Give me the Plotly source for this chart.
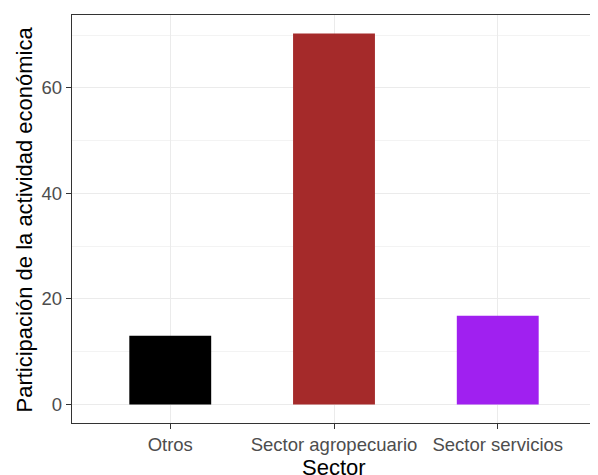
import plotly.graph_objects as go

sectores = ["Otros", "Sector agropecuario", "Sector servicios"]
participacion = [13.0, 70.3, 16.8]
colores = ["#000000", "#A52A2A", "#A020F0"]
y_ticks = [0, 20, 40, 60]
x_titulo = "Sector"
y_titulo = "Participación de la actividad económica"

# the page body has an 8px margin, so the figure is offset by 8px
OFF = 8
W, H = 598 - OFF, 475 - OFF
L, R, T, B = 72 - OFF, 2, 15 - OFF, 52
pw, ph = W - L - R, H - T - B

fig = go.Figure()
fig.add_trace(go.Bar(
    x=sectores, y=participacion, marker_color=colores,
    marker_line_width=0, width=0.5, showlegend=False,
))

ymax = max(participacion)
fig.update_layout(
    width=W, height=H,
    margin=dict(l=L, r=R, t=T, b=B),
    paper_bgcolor="white", plot_bgcolor="white",
    font=dict(family="Liberation Sans, Arial, sans-serif", size=18, color="#4D4D4D"),
)
fig.update_xaxes(
    range=[-0.6, 2.6], automargin=False,
    showgrid=True, gridcolor="#EBEBEB", gridwidth=1.1,
    showline=True, mirror=True, linecolor="#333333", linewidth=1.3,
    ticks="outside", ticklen=5, tickcolor="#333333", tickwidth=1.1,
    tickfont=dict(size=18.5, color="#4D4D4D"),
    zeroline=False,
)
fig.update_yaxes(
    range=[-0.05 * ymax, 1.05 * ymax], automargin=False,
    tickvals=y_ticks,
    showgrid=True, gridcolor="#EBEBEB", gridwidth=1.1,
    minor=dict(dtick=10, tick0=0, showgrid=True, gridcolor="#F3F3F3", gridwidth=0.6, ticks=""),
    showline=True, mirror=True, linecolor="#333333", linewidth=1.3,
    ticks="outside", ticklen=5, tickcolor="#333333", tickwidth=1.1,
    tickfont=dict(size=18.5, color="#4D4D4D"),
    zeroline=False,
)

# title positions in page pixels
xt_cx, xt_cy = 334, 467
yt_cx, yt_cy = 23.5, 220
fig.add_annotation(
    text=x_titulo, xref="paper", yref="paper",
    x=(xt_cx - OFF - L) / pw, y=(T + ph - (xt_cy - OFF)) / ph,
    xanchor="center", yanchor="middle",
    showarrow=False, font=dict(size=22, color="#000000"),
)
fig.add_annotation(
    text=y_titulo, xref="paper", yref="paper",
    x=(yt_cx - OFF - L) / pw, y=(T + ph - (yt_cy - OFF)) / ph,
    xanchor="center", yanchor="middle",
    textangle=-90, showarrow=False, font=dict(size=22, color="#000000"),
)

fig.write_html("out.html")
